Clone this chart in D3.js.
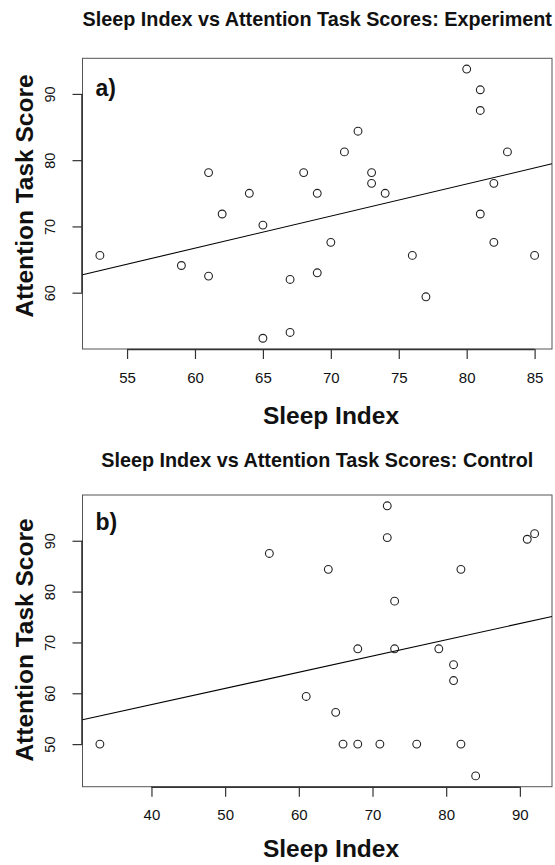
<!DOCTYPE html>
<html>
<head>
<meta charset="utf-8">
<script src="https://cdn.jsdelivr.net/npm/d3@7"></script>
<style>
  html, body { margin: 0; padding: 0; background: #fff; }
  svg { display: block; }
  text { font-family: "Liberation Sans", Arial, Helvetica, sans-serif; fill: #111; }
</style>
</head>
<body>
<svg id="chart" width="555" height="865"></svg>
<script>
// ---- Data ----
const expSleep = [80, 81, 81, 53, 59, 61, 62, 64, 65, 68, 69, 70, 71, 72, 73, 73, 74, 76, 81, 82, 82, 83, 85, 61, 67, 69, 77, 65, 67];
const expScore = [93.75, 90.625, 87.5, 65.625, 64.1, 78.125, 71.875, 75, 70.2, 78.125, 75, 67.6, 81.25, 84.375, 78.125, 76.5, 75, 65.625, 71.875, 76.5, 67.6, 81.25, 65.625, 62.5, 62.0, 63.0, 59.375, 53.125, 54.0];

const ctlSleep = [72, 72, 56, 64, 82, 91, 92, 73, 68, 73, 79, 81, 81, 61, 65, 33, 66, 68, 71, 76, 82, 84];
const ctlScore = [96.875, 90.625, 87.5, 84.375, 84.375, 90.3, 91.4, 78.125, 68.75, 68.75, 68.75, 65.625, 62.5, 59.375, 56.25, 50, 50, 50, 50, 50, 50, 43.75];

const expXTicks = [55, 60, 65, 70, 75, 80, 85];
const expYTicks = [60, 70, 80, 90];
const ctlXTicks = [40, 50, 60, 70, 80, 90];
const ctlYTicks = [50, 60, 70, 80, 90];

const titles = ["Sleep Index vs Attention Task Scores: Experiment", "Sleep Index vs Attention Task Scores: Control"];
const panelTags = ["a)", "b)"];
const xLabel = "Sleep Index";
const yLabel = "Attention Task Score";

// ---- Helpers ----
function rDomain(arr) {           // R's default 4% axis extension
  const [lo, hi] = d3.extent(arr);
  const p = (hi - lo) * 0.04;
  return [lo - p, hi + p];
}
function linFit(xs, ys) {
  const mx = d3.mean(xs), my = d3.mean(ys);
  let sxy = 0, sxx = 0;
  xs.forEach((x, i) => { sxy += (x - mx) * (ys[i] - my); sxx += (x - mx) * (x - mx); });
  const b = sxy / sxx;
  return { a: my - b * mx, b };
}

const svg = d3.select("#chart");
svg.append("rect").attr("width", 555).attr("height", 865).attr("fill", "#fff");

function panel(cfg) {
  const { xs, ys, xTicks, yTicks, box, title, tag, titleY, xLabY, yLabY, tagY } = cfg;
  const x = d3.scaleLinear().domain(rDomain(xs)).range([box.l, box.r]);
  const y = d3.scaleLinear().domain(rDomain(ys)).range([box.b, box.t]);
  const g = svg.append("g");

  // plot box
  g.append("rect")
    .attr("x", box.l).attr("y", box.t)
    .attr("width", box.r - box.l).attr("height", box.b - box.t)
    .attr("fill", "none").attr("stroke", "#555").attr("stroke-width", 1);

  // x axis
  const xa = g.append("g").attr("transform", `translate(0,${box.b})`)
    .call(d3.axisBottom(x).tickValues(xTicks).tickSize(10).tickSizeOuter(0).tickPadding(13).tickFormat(d3.format("d")));
  xa.select(".domain").attr("d", `M${x(xTicks[0])},0.5H${x(xTicks[xTicks.length-1])}`).attr("stroke", "#333").attr("stroke-width", 1.6);
  xa.selectAll(".tick line").attr("stroke", "#333").attr("stroke-width", 1.2);
  xa.selectAll(".tick text").attr("font-size", 15).attr("fill", "#222")
    .attr("font-family", "'Liberation Sans', Arial, sans-serif");

  // y axis
  const ya = g.append("g").attr("transform", `translate(${box.l},0)`)
    .call(d3.axisLeft(y).tickValues(yTicks).tickSize(10).tickSizeOuter(0).tickFormat(d3.format("d")));
  ya.select(".domain").attr("d", `M-0.5,${y(yTicks[0])}V${y(yTicks[yTicks.length-1])}`).attr("stroke", "#333").attr("stroke-width", 1.6);
  ya.selectAll(".tick line").attr("stroke", "#333").attr("stroke-width", 1.2);
  ya.selectAll(".tick text")
    .attr("x", -28).attr("dy", 0)
    .attr("text-anchor", "middle")
    .attr("transform", "rotate(-90,-28,0)")
    .attr("font-size", 14.5).attr("fill", "#222")
    .attr("font-family", "'Liberation Sans', Arial, sans-serif");

  // regression line
  const fit = linFit(xs, ys);
  const [d0, d1] = x.domain();
  g.append("line")
    .attr("x1", x(d0)).attr("y1", y(fit.a + fit.b * d0))
    .attr("x2", x(d1)).attr("y2", y(fit.a + fit.b * d1))
    .attr("stroke", "#000").attr("stroke-width", 1.1);

  // points
  g.selectAll("circle.pt").data(xs.map((v, i) => [v, ys[i]])).join("circle")
    .attr("class", "pt")
    .attr("cx", d => x(d[0])).attr("cy", d => y(d[1]))
    .attr("r", 3.9).attr("fill", "none").attr("stroke", "#222").attr("stroke-width", 1.1);

  // title
  svg.append("text").attr("x", (box.l + box.r) / 2).attr("y", titleY)
    .attr("text-anchor", "middle").attr("font-weight", "bold").attr("font-size", 19.8).text(title);

  // tag
  svg.append("text").attr("x", box.l + 13).attr("y", tagY)
    .attr("font-weight", "bold").attr("font-size", 23).text(tag);

  // x label
  svg.append("text").attr("x", 331).attr("y", xLabY)
    .attr("text-anchor", "middle").attr("font-weight", "bold").attr("font-size", 24.5).text(xLabel);

  // y label
  svg.append("text").attr("x", 0).attr("y", 0)
    .attr("transform", `translate(33,${yLabY}) rotate(-90)`)
    .attr("text-anchor", "middle").attr("font-weight", "bold").attr("font-size", 24.5).text(yLabel);
}

panel({
  xs: expSleep, ys: expScore, xTicks: expXTicks, yTicks: expYTicks,
  box: { l: 82.5, r: 552, t: 58.3, b: 349 },
  title: titles[0], tag: panelTags[0], titleY: 26, xLabY: 424, yLabY: 196, tagY: 96
});
panel({
  xs: ctlSleep, ys: ctlScore, xTicks: ctlXTicks, yTicks: ctlYTicks,
  box: { l: 82.5, r: 552, t: 495, b: 786.7 },
  title: titles[1], tag: panelTags[1], titleY: 467, xLabY: 857, yLabY: 640, tagY: 530
});
</script>
</body>
</html>
